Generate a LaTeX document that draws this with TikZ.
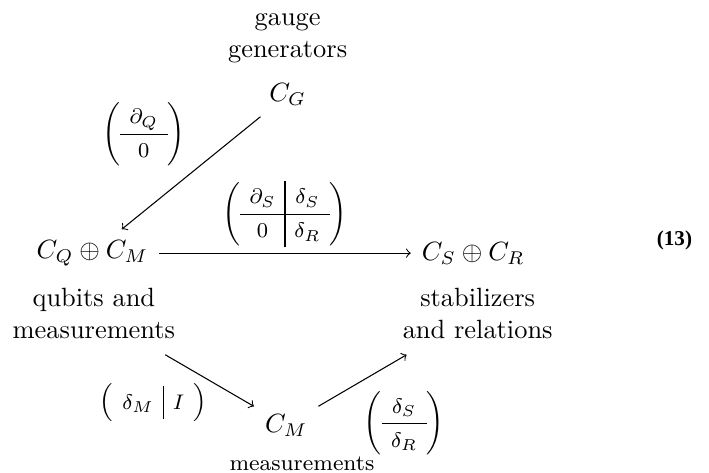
\documentclass[tikz,border=0pt]{standalone}
\usepackage{amsmath}
\usepackage{fontspec}
\usepackage{tikz}

\newfontfamily\eqnofont{Liberation Serif}
\newcommand{\labelsetup}{\footnotesize\setlength{\arraycolsep}{3.6pt}\renewcommand{\arraystretch}{1.3}}

\tikzset{
  obj/.style={inner sep=4pt},
  txt/.style={align=center, inner sep=4pt},
  maplabel/.style={font=\labelsetup, inner sep=2pt}
}

\begin{document}
\begin{tikzpicture}
        \useasboundingbox (0,0) rectangle (9.44,-6.285);
        \node[obj] (cg) at (3.83,-1.26) {$C_G$};
        \node[txt] (cgtxt) at (3.83,-0.51) {gauge\\generators};
        \node[obj] (cqm) at (1.23,-3.37) {$C_Q \oplus C_M$};
        \node[txt] (cqmtxt) at (1.25,-4.17) {qubits and\\measurements};
        \node[obj] (csr) at (6.30,-3.37) {$C_S \oplus C_R$};
        \node[txt] (csrtxt) at (6.36,-4.17) {stabilizers\\and relations};
        \node[obj] (cm) at (3.81,-5.66) {$C_M$};
        \node[txt, font=\fontsize{8.4}{10}\selectfont] (cmtxt) at (4.02,-6.17) {measurements};
        \node[font=\eqnofont\bfseries\fontsize{8}{9}\selectfont] (eqno) at (8.98,-3.20) {(13)};
        
        \draw[->] (cg) -- (cqm) node[midway, above left, maplabel] {$\left(\begin{array}{c}\partial_Q\\ \hline 0\end{array}\right)$};
        \draw[->] (cqm) -- (csr) node[midway, above, maplabel] {$\left(\begin{array}{c|c}\partial_S & \delta_S\\ \hline 0 & \delta_R\end{array}\right)$};
        \draw[->, shorten <=4pt] (cqmtxt) -- (cm) node[midway, below left, maplabel, xshift=3pt] {$\left(\begin{array}{c|c}\delta_M & I\end{array}\right)$};
        \draw[->, shorten >=4pt] (cm) -- (csrtxt) node[midway, below right, maplabel, xshift=-3.4pt, yshift=-2.6pt] {$\left(\begin{array}{c}\delta_S\\ \hline \delta_R\end{array}\right)$};
    \end{tikzpicture}
\end{document}
